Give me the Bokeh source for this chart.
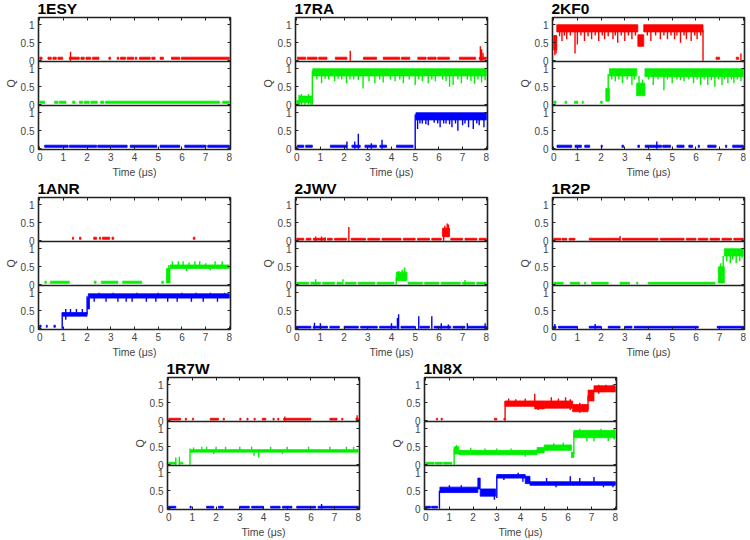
from bokeh.embed import file_html
from bokeh.layouts import column, row
from bokeh.models import CustomLabelingPolicy, FixedTicker, LinearAxis, Range1d, Span, Spacer
from bokeh.plotting import figure
from bokeh.resources import INLINE

# Fraction of native contacts Q against simulation time (us) for eight systems.
# Each system has three traces (red, green, blue).
# bands:  (t_start, t_end, q_low, q_high)  -> range covered by the fluctuating trace
# spikes: (t, q_low, q_high)               -> brief excursions / jumps

TIME_TICKS = [0, 1, 2, 3, 4, 5, 6, 7, 8]
Q_TICKS = [0, 0.5, 1]
Q_TICK_LABELS = ["0", "0.5", "1"]

# ---- 1ESY ----
esy_r_bands = [(0, 0.1, 0.04, 0.1), (0.35, 0.49, 0.04, 0.1), (0.56, 0.7, 0.04, 0.1), (0.77, 0.97, 0.04, 0.1),
               (1.25, 1.67, 0.04, 0.1), (1.74, 1.88, 0.04, 0.1), (1.95, 2.15, 0.04, 0.1), (2.23, 2.5, 0.04, 0.1),
               (2.92, 2.99, 0.04, 0.1), (3.27, 3.34, 0.04, 0.1), (3.41, 3.62, 0.04, 0.1), (3.69, 3.97, 0.04, 0.1),
               (4.03, 4.1, 0.04, 0.1), (4.21, 4.66, 0.04, 0.1), (4.73, 4.87, 0.04, 0.1), (5.08, 5.22, 0.04, 0.1),
               (5.56, 5.91, 0.04, 0.1), (5.98, 8.0, 0.04, 0.1)]
esy_r_spikes = [(1.3, 0.0, 0.25)]
esy_g_bands = [(0, 0.21, 0.04, 0.1), (0.63, 0.77, 0.04, 0.1), (0.83, 1.11, 0.04, 0.1), (1.39, 1.49, 0.04, 0.1),
               (1.67, 1.81, 0.04, 0.1), (1.88, 2.09, 0.04, 0.1), (2.16, 2.43, 0.04, 0.1), (2.57, 2.71, 0.04, 0.1),
               (2.78, 7.58, 0.04, 0.1), (7.72, 8.0, 0.04, 0.1)]
esy_g_spikes = []
esy_b_bands = [(0.21, 1.2, 0.04, 0.1), (1.25, 2.4, 0.04, 0.1), (2.45, 3.69, 0.04, 0.1), (3.82, 4.94, 0.04, 0.1),
               (5.08, 5.91, 0.04, 0.1), (6.12, 7.02, 0.04, 0.1), (7.09, 8.0, 0.04, 0.1)]
esy_b_spikes = []

# ---- 17RA ----
ra_r_bands = [(0.03, 0.38, 0.04, 0.1), (0.45, 0.86, 0.04, 0.1), (0.93, 1.28, 0.04, 0.1), (1.63, 2.12, 0.04, 0.1),
              (2.82, 3.37, 0.04, 0.1), (3.65, 4.35, 0.04, 0.1), (4.42, 4.77, 0.04, 0.1), (5.11, 5.46, 0.04, 0.1),
              (5.53, 5.88, 0.04, 0.1), (5.95, 6.44, 0.04, 0.1), (6.86, 7.55, 0.04, 0.1), (7.7, 8.0, 0.04, 0.1)]
ra_r_spikes = [(2.26, 0.0, 0.28), (7.75, 0.0, 0.4), (7.8, 0.0, 0.32), (7.86, 0.0, 0.22)]
ra_g_bands = [(0.0, 0.12, 0.02, 0.12), (0.12, 0.62, 0.06, 0.24), (0.68, 8.0, 0.8, 1.0)]
ra_g_spikes = [(0.1, 0.0, 0.28), (0.2, 0.0, 0.3), (0.35, 0.0, 0.22), (0.5, 0.0, 0.3), (0.6, 0.0, 0.25),
               (0.66, 0.0, 0.95), (0.85, 0.7, 0.8), (1.05, 0.6, 0.8), (1.2, 0.72, 0.8), (1.35, 0.7, 0.8),
               (1.6, 0.65, 0.8), (1.75, 0.72, 0.8), (1.9, 0.7, 0.8), (2.1, 0.6, 0.8), (2.25, 0.7, 0.8),
               (2.4, 0.7, 0.8), (2.6, 0.68, 0.8), (2.8, 0.45, 0.8), (3.05, 0.65, 0.8), (3.3, 0.6, 0.8),
               (3.5, 0.7, 0.8), (3.65, 0.62, 0.8), (3.95, 0.7, 0.8), (4.15, 0.65, 0.8), (4.35, 0.7, 0.8),
               (4.5, 0.6, 0.8), (4.75, 0.7, 0.8), (5.0, 0.55, 0.8), (5.15, 0.7, 0.8), (5.3, 0.65, 0.8),
               (5.55, 0.6, 0.8), (5.7, 0.7, 0.8), (5.85, 0.65, 0.8), (6.15, 0.7, 0.8), (6.3, 0.66, 0.8),
               (6.45, 0.5, 0.8), (6.6, 0.55, 0.8), (6.8, 0.7, 0.8), (6.95, 0.6, 0.8), (7.2, 0.7, 0.8),
               (7.35, 0.66, 0.8), (7.5, 0.58, 0.8), (7.65, 0.7, 0.8), (7.8, 0.62, 0.8), (7.95, 0.68, 0.8)]
ra_b_bands = [(0.03, 0.3, 0.04, 0.1), (0.38, 0.66, 0.04, 0.1), (1.42, 2.12, 0.04, 0.1), (2.33, 2.68, 0.04, 0.1),
              (2.88, 3.37, 0.04, 0.1), (3.51, 3.79, 0.04, 0.1), (4.21, 4.91, 0.04, 0.1), (5.03, 8.0, 0.8, 1.0)]
ra_b_spikes = [(2.12, 0.0, 0.2), (2.45, 0.0, 0.2), (2.6, 0.0, 0.42), (3.15, 0.0, 0.15), (3.6, 0.0, 0.25),
               (5.0, 0.0, 0.95), (5.1, 0.55, 0.8), (5.2, 0.7, 0.8), (5.3, 0.7, 0.8), (5.45, 0.68, 0.8),
               (5.55, 0.65, 0.8), (5.8, 0.72, 0.8), (5.95, 0.7, 0.8), (6.05, 0.6, 0.8), (6.2, 0.7, 0.8),
               (6.3, 0.7, 0.8), (6.45, 0.68, 0.8), (6.55, 0.6, 0.8), (6.7, 0.7, 0.8), (6.8, 0.5, 0.8),
               (7.0, 0.65, 0.8), (7.1, 0.7, 0.8), (7.25, 0.6, 0.8), (7.45, 0.55, 0.8), (7.6, 0.7, 0.8),
               (7.7, 0.65, 0.8), (7.9, 0.6, 0.8)]

# ---- 2KF0 ----
kf_r_bands = [(0.0, 0.13, 0.3, 0.7), (0.13, 3.55, 0.8, 1.0), (3.55, 3.8, 0.4, 0.72), (3.8, 6.3, 0.8, 1.0),
              (6.85, 7.0, 0.04, 0.1), (7.7, 7.8, 0.04, 0.1)]
kf_r_spikes = [(0.05, 0.15, 0.6), (0.1, 0.2, 0.7), (0.25, 0.68, 0.8), (0.35, 0.55, 0.8), (0.45, 0.7, 0.8),
               (0.55, 0.6, 0.8), (0.7, 0.7, 0.8), (0.9, 0.2, 0.8), (1.0, 0.45, 0.8), (1.15, 0.7, 0.8),
               (1.3, 0.55, 0.8), (1.45, 0.68, 0.8), (1.6, 0.6, 0.8), (1.75, 0.7, 0.8), (1.9, 0.55, 0.8),
               (2.05, 0.7, 0.8), (2.15, 0.6, 0.8), (2.3, 0.68, 0.8), (2.5, 0.6, 0.8), (2.6, 0.7, 0.8),
               (2.7, 0.5, 0.8), (2.85, 0.7, 0.8), (3.0, 0.55, 0.8), (3.15, 0.7, 0.8), (3.3, 0.6, 0.8),
               (3.45, 0.7, 0.8), (3.95, 0.7, 0.8), (4.1, 0.55, 0.8), (4.3, 0.7, 0.8), (4.5, 0.6, 0.8),
               (4.65, 0.7, 0.8), (4.8, 0.6, 0.8), (4.95, 0.7, 0.8), (5.1, 0.6, 0.8), (5.2, 0.7, 0.8),
               (5.35, 0.5, 0.8), (5.5, 0.7, 0.8), (5.6, 0.6, 0.8), (5.8, 0.55, 0.8), (5.95, 0.7, 0.8),
               (6.05, 0.6, 0.8), (6.2, 0.7, 0.8), (6.3, 0.0, 0.85), (7.9, 0.0, 0.2)]
kf_g_bands = [(0.0, 0.1, 0.04, 0.1), (0.48, 0.55, 0.04, 0.1), (0.88, 1.02, 0.04, 0.1), (1.2, 1.25, 0.04, 0.1),
              (1.98, 2.05, 0.04, 0.1), (2.2, 2.35, 0.1, 0.45), (2.35, 3.5, 0.8, 1.0), (3.5, 3.85, 0.25, 0.6),
              (3.85, 8.0, 0.78, 1.0)]
kf_g_spikes = [(2.3, 0.3, 0.85), (3.6, 0.5, 0.8), (3.75, 0.5, 0.7), (2.45, 0.7, 0.8), (2.6, 0.65, 0.8),
               (2.75, 0.7, 0.8), (2.9, 0.6, 0.8), (3.1, 0.7, 0.8), (3.3, 0.55, 0.8), (3.4, 0.7, 0.8),
               (4.0, 0.7, 0.8), (4.2, 0.55, 0.8), (4.4, 0.7, 0.8), (4.65, 0.4, 0.8), (4.8, 0.7, 0.8),
               (5.0, 0.6, 0.8), (5.2, 0.7, 0.8), (5.35, 0.68, 0.8), (5.5, 0.65, 0.8), (5.7, 0.7, 0.8),
               (5.9, 0.6, 0.8), (6.05, 0.7, 0.8), (6.2, 0.55, 0.8), (6.35, 0.7, 0.8), (6.5, 0.55, 0.8),
               (6.65, 0.68, 0.8), (6.8, 0.5, 0.8), (6.95, 0.7, 0.8), (7.1, 0.55, 0.8), (7.2, 0.7, 0.8),
               (7.35, 0.6, 0.8), (7.5, 0.7, 0.8), (7.6, 0.6, 0.8), (7.75, 0.7, 0.8), (7.9, 0.65, 0.8)]
kf_b_bands = [(0.14, 0.76, 0.04, 0.1), (0.9, 1.17, 0.04, 0.1), (1.31, 1.52, 0.04, 0.1), (2.0, 2.05, 0.04, 0.1),
              (2.88, 2.95, 0.04, 0.1), (3.55, 3.62, 0.04, 0.1), (3.86, 4.55, 0.04, 0.1), (4.6, 4.93, 0.04, 0.1),
              (5.2, 5.5, 0.04, 0.1), (5.7, 5.86, 0.04, 0.1), (6.1, 6.15, 0.04, 0.1), (6.5, 6.85, 0.04, 0.1),
              (7.25, 7.3, 0.04, 0.1), (7.55, 8.0, 0.04, 0.1)]
kf_b_spikes = [(4.35, 0.0, 0.2)]

# ---- 1ANR ----
anr_r_bands = [(1.38, 1.43, 0.04, 0.1), (1.68, 1.74, 0.04, 0.1), (2.28, 2.4, 0.04, 0.1), (2.52, 2.57, 0.04, 0.1),
               (2.65, 2.95, 0.04, 0.1), (3.05, 3.12, 0.04, 0.1), (6.48, 6.55, 0.04, 0.1)]
anr_r_spikes = []
anr_g_bands = [(0.22, 0.28, 0.04, 0.1), (0.45, 1.25, 0.04, 0.1), (2.3, 2.38, 0.04, 0.1), (2.6, 3.3, 0.04, 0.1),
               (3.5, 4.3, 0.04, 0.1), (5.15, 5.22, 0.04, 0.1), (5.35, 5.5, 0.05, 0.45), (5.5, 8.0, 0.45, 0.55)]
anr_g_spikes = [(5.45, 0.1, 0.55), (5.6, 0.55, 0.65), (5.85, 0.55, 0.65), (6.05, 0.55, 0.65), (6.3, 0.55, 0.62),
                (6.55, 0.55, 0.65), (6.75, 0.55, 0.65), (7.0, 0.55, 0.6), (7.4, 0.55, 0.65), (7.7, 0.55, 0.65),
                (6.2, 0.38, 0.45), (7.2, 0.4, 0.45)]
anr_b_bands = [(0.0, 0.06, 0.04, 0.1), (0.28, 0.32, 0.04, 0.1), (0.6, 0.66, 0.04, 0.1), (0.96, 2.0, 0.35, 0.45),
               (2.02, 2.1, 0.55, 0.85), (2.05, 8.0, 0.85, 0.97)]
anr_b_spikes = [(0.95, 0.0, 0.45), (1.1, 0.25, 0.55), (1.3, 0.45, 0.55), (1.55, 0.45, 0.55), (1.8, 0.45, 0.55),
                (2.0, 0.4, 0.9), (2.3, 0.75, 0.85), (2.8, 0.75, 0.85), (3.3, 0.75, 0.85), (3.65, 0.75, 0.85),
                (3.9, 0.75, 0.85), (4.5, 0.75, 0.85), (4.9, 0.75, 0.85), (5.4, 0.75, 0.85), (5.8, 0.75, 0.85),
                (6.4, 0.75, 0.85), (6.9, 0.75, 0.85), (7.5, 0.75, 0.85), (2.5, 0.97, 1.0), (3.1, 0.97, 1.0),
                (4.1, 0.97, 1.0), (5.0, 0.97, 1.0), (6.0, 0.97, 1.0), (6.6, 0.97, 1.0), (7.2, 0.97, 1.0),
                (7.8, 0.97, 1.0)]

# ---- 2JWV ----
jwv_r_bands = [(0, 0.3, 0.02, 0.07), (0.4, 0.6, 0.02, 0.07), (0.7, 1.2, 0.02, 0.07), (1.3, 1.5, 0.02, 0.07),
               (1.6, 2.1, 0.02, 0.07), (2.3, 2.9, 0.02, 0.07), (3.0, 3.5, 0.02, 0.07), (3.6, 4.4, 0.02, 0.07),
               (4.5, 5.0, 0.02, 0.07), (5.1, 5.6, 0.02, 0.07), (5.7, 6.1, 0.02, 0.07), (6.5, 7.0, 0.02, 0.07),
               (7.1, 7.6, 0.02, 0.07), (7.7, 8.0, 0.02, 0.07), (6.15, 6.45, 0.12, 0.35)]
jwv_r_spikes = [(0.8, 0.0, 0.12), (1.05, 0.0, 0.12), (1.2, 0.0, 0.1), (2.2, 0.0, 0.38), (6.2, 0.0, 0.3),
                (6.25, 0.1, 0.42), (6.35, 0.1, 0.48), (6.4, 0.1, 0.45)]
jwv_g_bands = [(0, 0.5, 0.02, 0.07), (0.6, 1.0, 0.02, 0.07), (1.1, 1.6, 0.02, 0.07), (1.7, 1.9, 0.02, 0.07),
               (2.05, 2.5, 0.02, 0.07), (2.6, 3.3, 0.02, 0.07), (3.4, 4.1, 0.02, 0.07), (4.7, 5.3, 0.02, 0.07),
               (5.4, 6.0, 0.02, 0.07), (6.1, 6.9, 0.02, 0.07), (7.0, 7.5, 0.02, 0.07), (7.6, 8.0, 0.02, 0.07),
               (4.2, 4.65, 0.12, 0.35)]
jwv_g_spikes = [(0.8, 0.0, 0.15), (1.95, 0.0, 0.15), (7.1, 0.0, 0.13), (4.2, 0.0, 0.2), (4.3, 0.1, 0.38),
                (4.45, 0.1, 0.42), (4.55, 0.1, 0.48)]
jwv_b_bands = [(0, 0.6, 0.02, 0.07), (0.7, 1.3, 0.02, 0.07), (1.4, 1.8, 0.02, 0.07), (2.0, 2.6, 0.02, 0.07),
               (2.7, 3.4, 0.02, 0.07), (3.5, 4.2, 0.02, 0.07), (4.4, 5.0, 0.02, 0.07), (5.2, 5.6, 0.02, 0.07),
               (5.8, 6.5, 0.02, 0.07), (6.6, 7.1, 0.02, 0.07), (7.2, 8.0, 0.02, 0.07)]
jwv_b_spikes = [(0.75, 0.0, 0.17), (1.0, 0.0, 0.15), (4.0, 0.0, 0.15), (4.25, 0.0, 0.3), (4.3, 0.0, 0.4),
                (5.15, 0.0, 0.35), (5.7, 0.0, 0.35), (6.1, 0.0, 0.15), (6.4, 0.0, 0.12), (7.2, 0.0, 0.15),
                (7.95, 0.0, 0.15)]

# ---- 1R2P ----
r2p_r_bands = [(0, 0.3, 0.02, 0.07), (0.35, 0.55, 0.02, 0.07), (0.65, 0.9, 0.02, 0.07), (1.5, 2.8, 0.02, 0.07),
               (2.9, 4.4, 0.02, 0.07), (4.5, 5.5, 0.02, 0.07), (5.6, 6.0, 0.02, 0.07), (6.1, 6.5, 0.02, 0.07),
               (6.6, 7.0, 0.02, 0.07), (7.1, 7.5, 0.02, 0.07), (7.6, 8.0, 0.02, 0.07)]
r2p_r_spikes = [(2.8, 0.0, 0.13)]
r2p_g_bands = [(0, 0.4, 0.02, 0.07), (0.7, 1.1, 0.02, 0.07), (1.3, 1.35, 0.02, 0.07), (1.6, 2.3, 0.02, 0.07),
               (2.8, 3.2, 0.02, 0.07), (3.5, 3.55, 0.02, 0.07), (4.0, 6.8, 0.02, 0.07), (6.95, 7.2, 0.05, 0.5),
               (7.2, 8.0, 0.8, 1.0)]
r2p_g_spikes = [(7.05, 0.3, 0.6), (7.15, 0.4, 0.8), (7.3, 0.65, 0.8), (7.45, 0.6, 0.8), (7.55, 0.7, 0.8),
                (7.7, 0.6, 0.8), (7.85, 0.65, 0.8), (7.95, 0.75, 0.8)]
r2p_b_bands = [(0, 0.1, 0.02, 0.07), (0.2, 1.0, 0.02, 0.07), (1.5, 2.0, 0.02, 0.07), (2.3, 2.8, 0.02, 0.07),
               (3.0, 3.3, 0.02, 0.07), (3.4, 6.1, 0.02, 0.07), (6.9, 8.0, 0.02, 0.07)]
r2p_b_spikes = [(0.05, 0.0, 0.13), (1.75, 0.0, 0.13)]

# ---- 1R7W ----
r7w_r_bands = [(0, 0.5, 0.02, 0.07), (0.7, 0.75, 0.02, 0.07), (1.0, 1.05, 0.02, 0.07), (1.75, 2.1, 0.02, 0.07),
               (2.3, 2.35, 0.02, 0.07), (3.0, 3.05, 0.02, 0.07), (3.3, 3.35, 0.02, 0.07), (3.6, 3.65, 0.02, 0.07),
               (3.95, 4.1, 0.02, 0.07), (4.4, 4.45, 0.02, 0.07), (4.6, 4.65, 0.02, 0.07), (4.85, 5.6, 0.02, 0.07),
               (5.6, 6.0, 0.02, 0.07), (6.8, 7.1, 0.02, 0.07), (7.3, 7.35, 0.02, 0.07), (7.9, 8.0, 0.02, 0.07)]
r7w_r_spikes = [(4.9, 0.0, 0.12), (7.95, 0.0, 0.15)]
r7w_g_bands = [(0, 0.3, 0.02, 0.07), (0.45, 0.5, 0.02, 0.07), (0.55, 0.6, 0.02, 0.07), (0.92, 8.0, 0.35, 0.42)]
r7w_g_spikes = [(0.3, 0.0, 0.2), (0.45, 0.0, 0.22), (0.9, 0.0, 0.45), (1.05, 0.42, 0.48), (1.4, 0.42, 0.5),
                (1.6, 0.42, 0.5), (2.0, 0.42, 0.5), (2.4, 0.42, 0.5), (3.0, 0.42, 0.5), (3.5, 0.42, 0.5),
                (4.3, 0.42, 0.5), (5.0, 0.42, 0.5), (5.9, 0.42, 0.5), (6.8, 0.42, 0.5), (7.5, 0.42, 0.5),
                (7.8, 0.42, 0.5), (3.6, 0.25, 0.35), (3.8, 0.2, 0.35), (1.9, 0.3, 0.35), (4.8, 0.3, 0.35)]
r7w_b_bands = [(0, 0.3, 0.02, 0.07), (0.9, 0.95, 0.02, 0.07), (1.6, 1.9, 0.02, 0.07), (2.1, 2.3, 0.02, 0.07),
               (3.0, 3.4, 0.02, 0.07), (3.5, 4.0, 0.02, 0.07), (4.3, 4.7, 0.02, 0.07), (4.8, 5.2, 0.02, 0.07),
               (5.4, 6.2, 0.02, 0.07), (6.3, 8.0, 0.02, 0.07)]
r7w_b_spikes = [(6.45, 0.0, 0.13)]

# ---- 1N8X ----
n8x_r_bands = [(0.45, 0.5, 0.02, 0.07), (0.65, 0.7, 0.02, 0.07), (2.9, 3.0, 0.02, 0.07), (3.3, 3.33, 0.02, 0.07),
               (3.35, 4.6, 0.4, 0.55), (4.6, 5.0, 0.33, 0.55), (5.0, 6.2, 0.35, 0.55), (6.2, 6.85, 0.25, 0.45),
               (6.85, 7.1, 0.55, 0.85), (7.1, 8.0, 0.8, 0.97)]
n8x_r_spikes = [(3.35, 0.0, 0.55), (3.5, 0.55, 0.62), (3.8, 0.55, 0.6), (4.2, 0.55, 0.62), (4.6, 0.4, 0.75),
                (4.75, 0.3, 0.5), (5.3, 0.55, 0.65), (5.6, 0.55, 0.62), (5.9, 0.55, 0.65), (6.1, 0.3, 0.6),
                (6.5, 0.22, 0.5), (6.85, 0.3, 0.7), (7.3, 0.75, 1.0), (7.6, 0.8, 1.0), (7.9, 0.8, 1.0)]
n8x_g_bands = [(0, 0.35, 0.02, 0.07), (0.4, 0.7, 0.02, 0.07), (0.75, 1.1, 0.02, 0.07), (1.2, 1.4, 0.3, 0.5),
               (1.4, 4.7, 0.28, 0.4), (4.7, 5.0, 0.33, 0.48), (5.0, 6.15, 0.4, 0.55), (6.15, 6.25, 0.2, 0.35),
               (6.25, 8.0, 0.75, 0.95)]
n8x_g_spikes = [(1.2, 0.0, 0.45), (1.3, 0.3, 0.55), (1.9, 0.4, 0.47), (2.5, 0.4, 0.45), (3.0, 0.4, 0.45),
                (3.6, 0.4, 0.45), (4.2, 0.22, 0.35), (5.4, 0.55, 0.6), (5.8, 0.55, 0.62), (6.25, 0.3, 0.9),
                (6.5, 0.95, 1.0), (6.8, 0.65, 0.75), (7.1, 0.65, 0.75), (7.4, 0.95, 1.0), (7.7, 0.65, 0.75),
                (7.95, 0.7, 1.0)]
n8x_b_bands = [(0, 0.2, 0.02, 0.07), (0.25, 0.5, 0.02, 0.07), (0.6, 2.2, 0.45, 0.6), (2.2, 2.3, 0.55, 0.85),
               (2.3, 2.95, 0.35, 0.55), (3.0, 4.2, 0.85, 0.95), (4.2, 4.4, 0.7, 0.9), (4.4, 8.0, 0.65, 0.75)]
n8x_b_spikes = [(0.58, 0.0, 0.5), (0.7, 0.45, 0.6), (1.0, 0.6, 0.65), (1.5, 0.6, 0.65), (2.9, 0.25, 0.55),
                (3.0, 0.3, 0.9), (3.3, 0.8, 0.85), (3.9, 0.95, 1.0), (4.1, 0.75, 0.85), (5.1, 0.75, 0.85),
                (5.5, 0.6, 0.65), (6.1, 0.75, 0.9), (6.5, 0.75, 0.85), (7.1, 0.75, 0.88), (7.5, 0.6, 0.65),
                (7.9, 0.6, 0.7)]

RED, GREEN, BLUE = "#ff0000", "#00f000", "#0000ff"
FONT = "Liberation Sans"
TEXT_GREY = "#444444"
STRIP = 1.22      # vertical extent of each stacked strip, in Q units
Q_LO = -0.02      # bottom of each strip
FRAME_W = 192
LEFT, BOTTOM, HEIGHT = 38, 28, 180


def strip_ticks():
    pos, labels = [], {}
    for k in range(3):
        for q, s in zip(Q_TICKS, Q_TICK_LABELS):
            y = round(k * STRIP - Q_LO + q, 4)
            pos.append(y)
            labels[y] = s
    return pos, labels


def style_mirror(ax):
    # tick marks only, no labels drawn
    ax.major_label_policy = CustomLabelingPolicy(code="return []")
    ax.major_label_text_font_size = "1px"
    ax.major_label_standoff = 0
    ax.major_tick_in = 3
    ax.major_tick_out = 0
    ax.minor_tick_line_color = None
    ax.axis_line_color = None
    ax.major_tick_line_color = "#222222"


def make_panel(name, strips, right):
    p = figure(width=LEFT + FRAME_W + right, height=HEIGHT,
               x_range=Range1d(-0.05, 8.05), y_range=Range1d(0, 3 * STRIP),
               output_backend="svg", toolbar_location=None,
               min_border_left=LEFT, min_border_right=right,
               min_border_top=0, min_border_bottom=BOTTOM)
    p.grid.visible = False
    p.outline_line_color = "#222222"
    p.outline_line_width = 1.6
    p.background_fill_color = "white"
    p.border_fill_color = "white"

    p.title.text = name
    p.title.text_font = FONT
    p.title.text_font_size = "15.5px"
    p.title.text_font_style = "bold"
    p.title.text_color = "black"
    p.title.align = "left"
    p.title.offset = -1
    p.title.standoff = -6

    ranges = {}
    for i, (bands, spikes, color) in enumerate(strips):
        k = 2 - i
        start = Q_LO - k * STRIP
        ranges[f"strip{k}"] = Range1d(start, start + 3 * STRIP)
    p.extra_y_ranges = ranges

    for i, (bands, spikes, color) in enumerate(strips):
        rname = f"strip{2 - i}"
        if bands:
            p.quad(left=[b[0] for b in bands], right=[b[1] for b in bands],
                   bottom=[b[2] for b in bands], top=[b[3] for b in bands],
                   y_range_name=rname, fill_color=color, line_color=color, line_width=0.8)
        if spikes:
            p.segment(x0=[s[0] for s in spikes], x1=[s[0] for s in spikes],
                      y0=[s[1] for s in spikes], y1=[s[2] for s in spikes],
                      y_range_name=rname, line_color=color, line_width=1.4)

    for k in (1, 2):
        p.add_layout(Span(location=k * STRIP, dimension="width", line_color="#222222", line_width=1.6))

    pos, labels = strip_ticks()

    xa = p.xaxis[0]
    xa.ticker = FixedTicker(ticks=TIME_TICKS)
    xa.axis_label = "Time (μs)"
    ya = p.yaxis[0]
    ya.ticker = FixedTicker(ticks=pos)
    ya.major_label_overrides = labels
    ya.axis_label = "Q"
    for ax in (xa, ya):
        ax.major_tick_in = 3
        ax.major_tick_out = 0
        ax.minor_tick_line_color = None
        ax.axis_line_color = None
        ax.major_tick_line_color = "#222222"
        ax.major_label_text_font = FONT
        ax.major_label_text_font_size = "10px"
        ax.major_label_text_color = TEXT_GREY
        ax.axis_label_text_font = FONT
        ax.axis_label_text_font_size = "10.5px"
        ax.axis_label_text_font_style = "normal"
        ax.axis_label_text_color = TEXT_GREY
    xa.major_label_standoff = 3
    xa.axis_label_standoff = 2
    ya.major_label_standoff = 4
    ya.axis_label_standoff = 1

    top_ax = LinearAxis(ticker=FixedTicker(ticks=TIME_TICKS))
    style_mirror(top_ax)
    p.add_layout(top_ax, "above")
    right_ax = LinearAxis(ticker=FixedTicker(ticks=pos))
    style_mirror(right_ax)
    p.add_layout(right_ax, "right")
    return p


def trio(rb, rs, gb, gs, bb, bs):
    return [(rb, rs, RED), (gb, gs, GREEN), (bb, bs, BLUE)]


f1 = make_panel("1ESY", trio(esy_r_bands, esy_r_spikes, esy_g_bands, esy_g_spikes, esy_b_bands, esy_b_spikes), 27)
f2 = make_panel("17RA", trio(ra_r_bands, ra_r_spikes, ra_g_bands, ra_g_spikes, ra_b_bands, ra_b_spikes), 27)
f3 = make_panel("2KF0", trio(kf_r_bands, kf_r_spikes, kf_g_bands, kf_g_spikes, kf_b_bands, kf_b_spikes), 6)
f4 = make_panel("1ANR", trio(anr_r_bands, anr_r_spikes, anr_g_bands, anr_g_spikes, anr_b_bands, anr_b_spikes), 27)
f5 = make_panel("2JWV", trio(jwv_r_bands, jwv_r_spikes, jwv_g_bands, jwv_g_spikes, jwv_b_bands, jwv_b_spikes), 27)
f6 = make_panel("1R2P", trio(r2p_r_bands, r2p_r_spikes, r2p_g_bands, r2p_g_spikes, r2p_b_bands, r2p_b_spikes), 6)
f7 = make_panel("1R7W", trio(r7w_r_bands, r7w_r_spikes, r7w_g_bands, r7w_g_spikes, r7w_b_bands, r7w_b_spikes), 27)
f8 = make_panel("1N8X", trio(n8x_r_bands, n8x_r_spikes, n8x_g_bands, n8x_g_spikes, n8x_b_bands, n8x_b_spikes), 27)

layout = column(
    row(f1, f2, f3, spacing=0),
    row(f4, f5, f6, spacing=0),
    row(Spacer(width=129, height=HEIGHT), f7, f8, spacing=0),
    spacing=0,
)

open("out.html", "w").write(file_html(layout, INLINE))
